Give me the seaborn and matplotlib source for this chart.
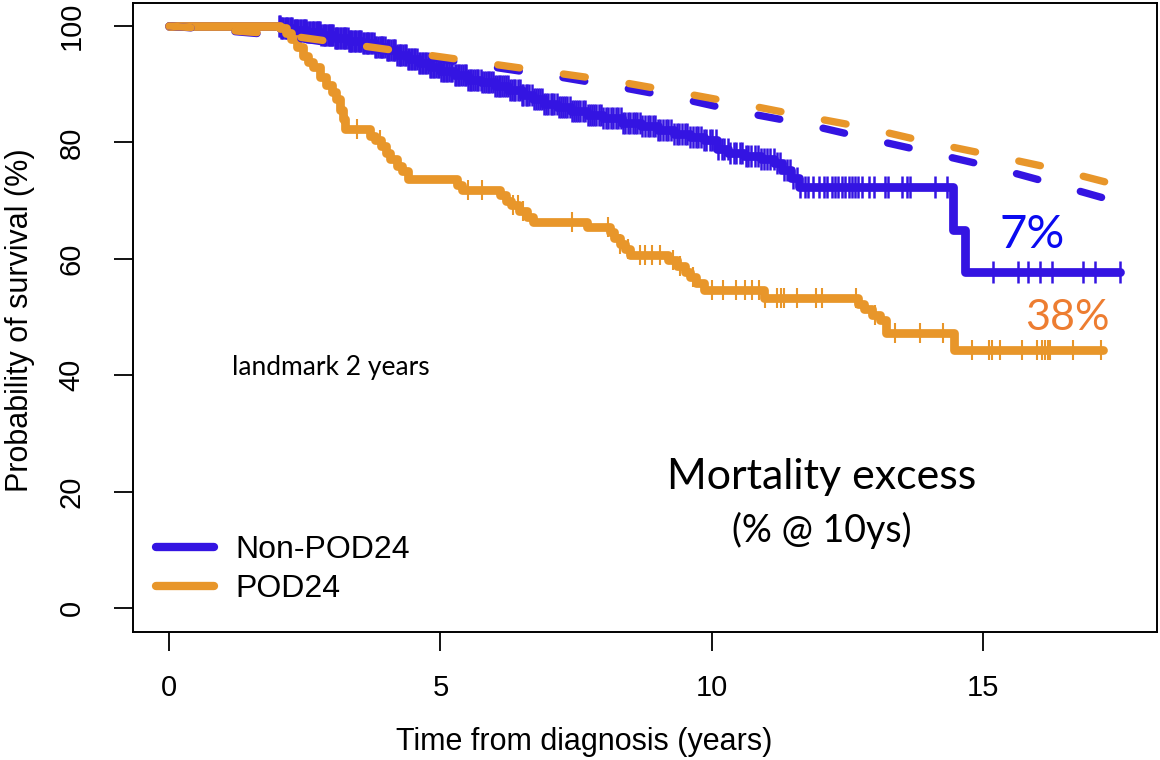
import numpy as np
import matplotlib
matplotlib.use("Agg")
import matplotlib.pyplot as plt
import seaborn as sns
from matplotlib.lines import Line2D

# ---------------- data ----------------
groups = ["Non-POD24", "POD24"]

# Kaplan-Meier step curves: event times (years) and survival (%) after each event
km_blue_t = [0, 2.05, 2.3, 2.55, 2.8, 3.05, 3.3, 3.55, 3.8, 4.0, 4.2, 4.4, 4.6, 4.8,
             5.0, 5.25, 5.5, 5.75, 6.0, 6.25, 6.5, 6.7, 6.9, 7.15, 7.4, 7.7, 8.0,
             8.35, 8.7, 9.0, 9.3, 9.6, 9.85, 10.1, 10.3, 10.6, 10.9, 11.15, 11.3,
             11.45, 11.6, 14.45, 14.67, 17.52]
km_blue_s = [100, 99.7, 99.3, 98.9, 98.4, 98.0, 97.5, 97.0, 96.4, 95.8, 95.0, 94.3,
             93.6, 93.0, 92.3, 91.5, 90.8, 90.3, 89.7, 89.0, 88.2, 87.4, 86.6, 86.0,
             85.4, 84.7, 84.2, 83.4, 82.8, 82.2, 81.5, 81.0, 80.4, 78.8, 78.2, 77.6,
             77.1, 76.4, 75.2, 73.8, 72.3, 65.0, 57.7, 57.7]

km_orange_t = [0, 2.05, 2.15, 2.25, 2.36, 2.47, 2.56, 2.65, 2.78, 2.9, 3.0, 3.08,
               3.15, 3.2, 3.25, 3.7, 3.8, 3.9, 4.0, 4.08, 4.2, 4.3, 4.4, 5.3, 5.4,
               6.1, 6.2, 6.3, 6.45, 6.6, 6.7, 7.7, 8.13, 8.2, 8.3, 8.4, 8.5, 9.2,
               9.35, 9.5, 9.6, 9.7, 9.85, 10.96, 12.7, 12.8, 12.95, 13.1, 13.2,
               14.46, 17.2]
km_orange_s = [100, 99.6, 98.8, 97.8, 96.4, 94.8, 93.8, 92.9, 91.3, 89.9, 88.6,
               87.4, 85.6, 84.0, 82.3, 81.1, 80.4, 79.3, 78.2, 77.2, 75.9, 75.0,
               73.7, 72.6, 71.8, 71.0, 70.0, 69.2, 68.2, 67.2, 66.4, 65.5, 64.6,
               63.6, 62.6, 61.6, 60.7, 59.8, 58.8, 57.8, 56.8, 55.8, 54.6, 53.3,
               52.3, 51.3, 50.4, 49.4, 47.2, 44.3, 44.3]

# censoring times (years)
cens_blue = [2.02, 2.04, 2.06, 2.08, 2.1, 2.13, 2.15, 2.18, 2.2, 2.22, 2.25, 2.27,
             2.3, 2.32, 2.34, 2.36, 2.38, 2.41, 2.43, 2.46, 2.48, 2.5, 2.53, 2.55,
             2.58, 2.6, 2.63, 2.65, 2.67, 2.7, 2.72, 2.74, 2.76, 2.78, 2.8, 2.83,
             2.85, 2.88, 2.9, 2.92, 2.94, 2.97, 2.99, 3.01, 3.03, 3.06, 3.08, 3.1,
             3.12, 3.15, 3.17, 3.2, 3.22, 3.24, 3.26, 3.29, 3.31, 3.33, 3.36, 3.38,
             3.4, 3.43, 3.45, 3.48, 3.5, 3.52, 3.54, 3.57, 3.6, 3.62, 3.65, 3.67,
             3.69, 3.72, 3.74, 3.77, 3.8, 3.82, 3.85, 3.88, 3.9, 3.93, 3.95, 3.98,
             4.01, 4.03, 4.06, 4.09, 4.12, 4.15, 4.17, 4.2, 4.23, 4.25, 4.28, 4.31,
             4.34, 4.37, 4.4, 4.43, 4.45, 4.48, 4.51, 4.54, 4.57, 4.6, 4.63, 4.66,
             4.68, 4.71, 4.74, 4.77, 4.8, 4.83, 4.86, 4.89, 4.92, 4.95, 4.98, 5.01,
             5.04, 5.07, 5.1, 5.13, 5.16, 5.19, 5.22, 5.26, 5.29, 5.32, 5.35, 5.38,
             5.41, 5.45, 5.48, 5.51, 5.54, 5.57, 5.6, 5.64, 5.67, 5.7, 5.74, 5.77,
             5.8, 5.84, 5.87, 5.9, 5.94, 5.97, 6.0, 6.04, 6.07, 6.1, 6.14, 6.17,
             6.21, 6.24, 6.28, 6.31, 6.35, 6.38, 6.42, 6.46, 6.5, 6.53, 6.57, 6.6,
             6.64, 6.68, 6.72, 6.76, 6.8, 6.83, 6.87, 6.91, 6.95, 6.99, 7.03, 7.06,
             7.1, 7.14, 7.18, 7.22, 7.26, 7.3, 7.34, 7.38, 7.42, 7.46, 7.5, 7.54,
             7.58, 7.62, 7.67, 7.71, 7.75, 7.79, 7.83, 7.87, 7.92, 7.96, 8.0, 8.05,
             8.09, 8.14, 8.18, 8.23, 8.27, 8.32, 8.36, 8.4, 8.45, 8.5, 8.54, 8.58,
             8.63, 8.68, 8.72, 8.77, 8.82, 8.86, 8.91, 8.96, 9.0, 9.05, 9.1, 9.15,
             9.2, 9.25, 9.3, 9.35, 9.4, 9.45, 9.5, 9.55, 9.6, 9.65, 9.7, 9.75, 9.8,
             9.85, 9.9, 9.96, 10.01, 10.07, 10.12, 10.18, 10.23, 10.29, 10.34, 10.4,
             10.45, 10.51, 10.56, 10.62, 10.67, 10.73, 10.79, 10.85, 10.9, 10.96,
             11.02, 11.08, 11.14, 11.2, 11.26, 11.32, 11.38, 11.44, 11.5, 11.56,
             11.62,
             11.72, 11.78, 11.87, 11.97, 12.06, 12.12, 12.21, 12.27, 12.33, 12.40,
             12.46, 12.52, 12.58, 12.64, 12.70, 12.77, 12.89, 12.98, 13.19, 13.25,
             13.50, 13.59, 13.65, 14.11, 14.33,
             15.18, 15.64, 15.83, 16.05, 16.27, 16.84, 17.06, 17.52]
cens_orange = [3.12, 3.46, 3.89, 5.5, 5.77, 6.34, 6.43, 6.52, 7.43, 8.09, 8.31,
               8.46, 8.68, 8.77, 8.9, 9.05, 9.29, 9.42, 9.66, 10.01, 10.21, 10.44,
               10.61, 10.74, 10.87, 10.97, 11.2, 11.27, 11.33, 11.56, 11.92, 12.02,
               12.65, 13.0, 13.38, 13.84, 14.26, 14.79, 15.1, 15.16, 15.31, 15.71,
               15.99, 16.08, 16.14, 16.2, 16.23, 16.66, 17.16]

# expected (population) survival, dashed
exp_t = [0, 2, 3.7, 5.85, 7.15, 8.3, 9.45, 10.55, 11.7, 12.85, 13.95, 15.15, 16.25, 17.5]
exp_orange = [100, 98.6, 96.4, 93.6, 91.9, 90.4, 88.5, 86.6, 84.5, 82.5, 80.1, 77.8, 75.6, 72.6]
exp_blue = [100, 98.4, 96.1, 93.1, 91.3, 89.5, 87.5, 85.2, 83.2, 80.7, 78.4, 75.8, 73.0, 69.7]

x_ticks = [0, 5, 10, 15]
y_ticks = [0, 20, 40, 60, 80, 100]
excess_labels = ["7%", "38%"]

BLUE = "#3414E2"
ORANGE = "#E8962A"

# ---------------- plotting ----------------
sns.set_style("white")
plt.rcParams["font.family"] = ["Liberation Sans", "DejaVu Sans"]
plt.rcParams["text.color"] = "black"
plt.rcParams["axes.labelcolor"] = "black"
plt.rcParams["xtick.color"] = "black"
plt.rcParams["ytick.color"] = "black"

W, H = 1160, 760
fig = plt.figure(figsize=(W / 100, H / 100), dpi=100)
ax = fig.add_axes([133 / W, 1 - 632 / H, (1157 - 133) / W, (632 - 3) / H])


def surv_at(times, t_arr, s_arr):
    t_arr = np.asarray(t_arr)
    s_arr = np.asarray(s_arr)
    idx = np.searchsorted(t_arr, np.asarray(times), side="right") - 1
    return s_arr[np.clip(idx, 0, len(s_arr) - 1)]


KM_LW = 6.3

# blue KM
sns.lineplot(x=km_blue_t, y=km_blue_s, drawstyle="steps-post", color=BLUE,
             linewidth=KM_LW, estimator=None, sort=False, ax=ax, zorder=2)
sns.scatterplot(x=cens_blue, y=surv_at(cens_blue, km_blue_t, km_blue_s),
                marker="|", s=250, linewidth=1.8, color=BLUE, ax=ax, zorder=2.1)
# orange KM
sns.lineplot(x=km_orange_t, y=km_orange_s, drawstyle="steps-post", color=ORANGE,
             linewidth=KM_LW, estimator=None, sort=False, ax=ax, zorder=3)
sns.scatterplot(x=cens_orange, y=surv_at(cens_orange, km_orange_t, km_orange_s),
                marker="|", s=210, linewidth=1.5, color=ORANGE, ax=ax, zorder=3.1)

# expected survival dashed lines
for ys, col, z in [(exp_blue, BLUE, 4), (exp_orange, ORANGE, 5)]:
    sns.lineplot(x=exp_t, y=ys, color=col, linewidth=5.3, estimator=None,
                 sort=False, ax=ax, zorder=z)
    ln = ax.get_lines()[-1]
    ln.set_dashes((3, 6))
    ln.set_dash_capstyle("round")

ax.set_xlim(-0.663, 18.2)
ax.set_ylim(-4.12, 103.95)
ax.set_xticks(x_ticks)
ax.set_yticks(y_ticks)
ax.set_xticklabels([str(v) for v in x_ticks])
ax.set_yticklabels([str(v) for v in y_ticks])
ax.tick_params(axis="both", length=14, width=1.3, color="black",
               labelsize=21, labelcolor="black")
ax.tick_params(axis="x", pad=16, bottom=True)
ax.tick_params(axis="y", pad=20, left=True, labelrotation=90)
for lab in ax.get_yticklabels():
    lab.set_va("center")
for sp in ax.spines.values():
    sp.set_visible(True)
    sp.set_color("black")
    sp.set_linewidth(1.4)
ax.set_xlabel("")
ax.set_ylabel("")

fig.text(584 / W, 1 - 742 / H, "Time from diagnosis (years)", ha="center",
         va="center", fontsize=22, color="black")
fig.text(20 / W, 1 - 320 / H, "Probability of survival (%)", ha="center",
         va="center", rotation=90, fontsize=22, color="black")

# legend
handles = [Line2D([0], [0], color=BLUE, lw=6, solid_capstyle="round"),
           Line2D([0], [0], color=ORANGE, lw=6, solid_capstyle="round")]
leg = ax.legend(handles, groups, loc="center left",
                bbox_to_anchor=(156 / W, 1 - 569.5 / H), bbox_transform=fig.transFigure,
                frameon=False, fontsize=23, handlelength=1.8, handletextpad=0.7,
                labelspacing=0.3, borderpad=0, borderaxespad=0)
for t in leg.get_texts():
    t.set_color("black")

# annotations
ann_font = ["Lato", "DejaVu Sans"]
ax.text(1.16, 41.4, "landmark 2 years", ha="left", va="center", fontsize=19,
        family=ann_font, color="black")
ax.text(12.03, 20.4, "Mortality excess", ha="center", va="baseline", fontsize=31,
        family=ann_font, color="black")
ax.text(12.03, 13.4, "(% @ 10ys)", ha="center", va="center", fontsize=27,
        family=ann_font, color="black")
ax.text(15.9, 61.9, excess_labels[0], ha="center", va="baseline", fontsize=34,
        family=ann_font, color="#0A0AF0")
ax.text(16.55, 47.8, excess_labels[1], ha="center", va="baseline", fontsize=31,
        family=ann_font, color="#ED7D31")

fig.savefig("out.png", dpi=100)
